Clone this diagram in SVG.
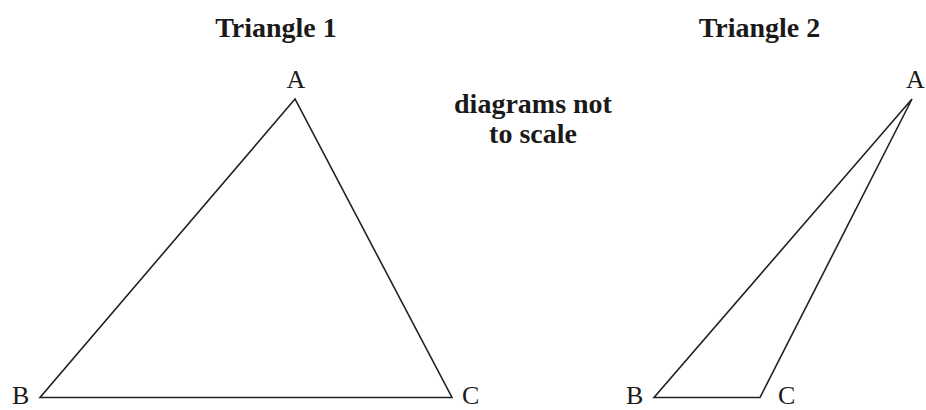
<svg xmlns="http://www.w3.org/2000/svg" width="926" height="410" viewBox="0 0 926 410">
<style>
.t{font-family:"Liberation Serif","Times New Roman",serif;fill:#1a1a1a}
.b{font-weight:bold}
.v{font-size:26px}
.tri{fill:none;stroke:#222;stroke-width:1.6;stroke-linejoin:miter}
</style>
<rect width="926" height="410" fill="#fff"/>
<text class="t b" x="276" y="37" font-size="28" text-anchor="middle">Triangle 1</text>
<text class="t b" x="759.5" y="37" font-size="28" text-anchor="middle">Triangle 2</text>
<text class="t b" x="533" y="113" font-size="28" text-anchor="middle">diagrams not</text>
<text class="t b" x="533" y="143" font-size="28" text-anchor="middle">to scale</text>
<g id="triangle1">
<polygon class="tri" points="295,99 40,397.5 452,397.5"/>
<text class="t v" x="296" y="88" text-anchor="middle">A</text>
<text class="t v" x="12" y="404">B</text>
<text class="t v" x="462" y="404">C</text>
</g>
<g id="triangle2">
<polygon class="tri" points="912,99 654,397.5 760,397.5"/>
<text class="t v" x="906" y="88">A</text>
<text class="t v" x="626" y="404">B</text>
<text class="t v" x="778" y="404">C</text>
</g>
</svg>
